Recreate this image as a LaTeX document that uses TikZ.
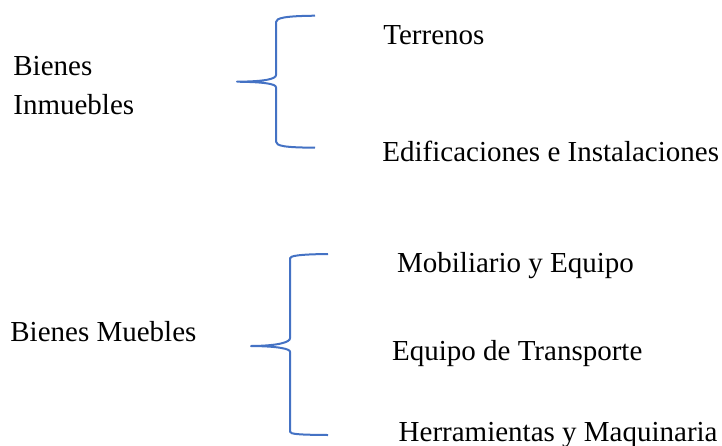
\documentclass[tikz,border=0pt]{standalone}
\usepackage{fontspec}
\setmainfont{Liberation Serif}
\definecolor{llaveazul}{HTML}{4472C4}

\begin{document}
\begin{tikzpicture}[x=0.5pt, y=-0.5pt, line join=round,
  llave/.style={draw=llaveazul, line width=1pt},
  texto/.style={anchor=base west, inner sep=0pt, align=left,
    font=\fontsize{14.5}{19.5}\selectfont}]
\useasboundingbox (0,0) rectangle (722,445);

% bienes inmuebles
\node[texto] (inmuebles) at (13,114) {Bienes\\Inmuebles};
\node[texto] (terrenos) at (383,44.3) {Terrenos};
\node[texto] (edificaciones) at (382,161.7) {Edificaciones e Instalaciones};
\draw[llave] (315,15.7) .. controls (285,16) and (276,18) .. (276,22) -- (276,75)
  .. controls (276,79) and (265,81.5) .. (237,81.7)
  .. controls (265,82) and (276,84) .. (276,87.3) -- (276,141.7)
  .. controls (276,146) and (285,147.5) .. (315,147.7);

% bienes muebles
\node[texto] (muebles) at (10,341.7) {Bienes Muebles};
\node[texto] (mobiliario) at (396.7,272.3) {Mobiliario y Equipo};
\node[texto] (transporte) at (391.7,360.7) {Equipo de Transporte};
\node[texto] (herramientas) at (398.3,441.5) {Herramientas y Maquinaria};
\draw[llave] (328,254) .. controls (298,254.3) and (290,256) .. (290,258.3) -- (290,338.3)
  .. controls (290,342) and (279,345.8) .. (251,346)
  .. controls (279,346.2) and (290,349) .. (290,351.7) -- (290,431.7)
  .. controls (290,434) and (298,434.8) .. (328,435);
\end{tikzpicture}
\end{document}
